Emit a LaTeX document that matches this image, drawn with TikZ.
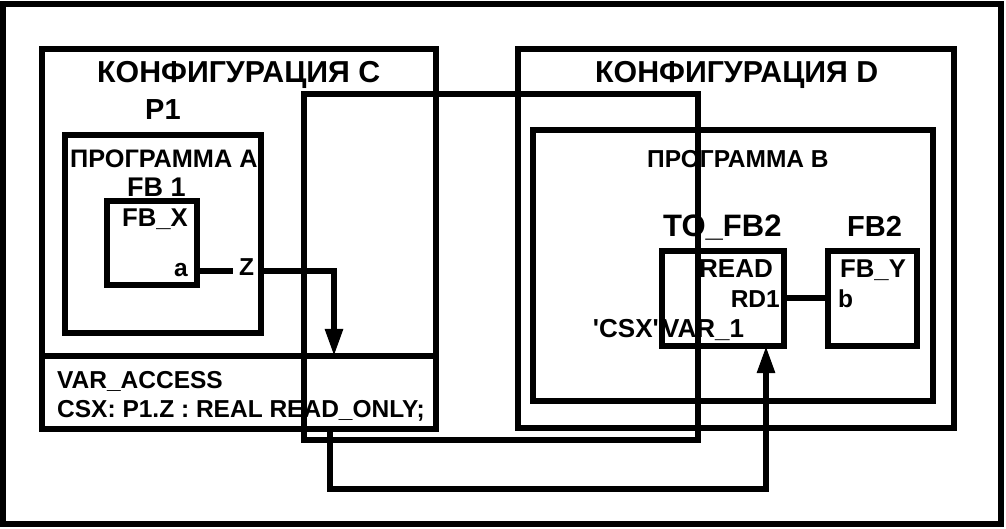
\documentclass[tikz,border=0pt]{standalone}
\usepackage{fontspec}
\setmainfont{Liberation Sans}
\usetikzlibrary{arrows.meta,fit}
\newcommand\fsz[1]{\bfseries\fontsize{#1bp}{#1bp}\selectfont}
\begin{document}
\begin{tikzpicture}[x=1bp,y=-1bp,
  box/.style={draw, line width=5.5bp, inner sep=0pt, outer sep=0pt},
  wire/.style={line width=5.5bp},
  big/.style={font=\fsz{30.3}, inner sep=0pt},
  txt/.style={font=\fsz{24.5}, inner sep=0pt},
  arr/.style={-{Triangle[length=27bp,width=17bp]}}
]
\useasboundingbox (0,0) rectangle (1006,529);
% boxes
\node[box, fit={(3,4) (1001,524)}] (frame) {};
\node[box, fit={(42,49) (436,429)}] (confC) {};
\node[box, fit={(65,135) (261,333)}] (progA) {};
\node[box, fit={(107,201) (197,285)}] (fbx) {};
\node[box, fit={(518,49) (954,428)}] (confD) {};
\node[box, fit={(533,130) (933,401)}] (progB) {};
\node[box, fit={(662,251) (784,346)}] (tofb) {};
\node[box, fit={(828,251) (917,346)}] (fbtwo) {};
\coordinate (sep) at (0,356);
\draw[wire] (confC.west |- sep) -- (confC.east |- sep);
% texts
\node[big, anchor=base west] (tC) at (97,83) {КОНФИГУРАЦИЯ C};
\node[big, font=\fsz{29}, anchor=base west] (tP) at (145,120) {P1};
\node[txt, font=\fsz{25.3}, anchor=base west] (tpA) at (70,168) {ПРОГРАММА A};
\node[txt, font=\fsz{27}, anchor=base west] (tfb1) at (127,197) {FB 1};
\node[txt, font=\fsz{25.7}, anchor=base west] (tfbx) at (122,227) {FB\_X};
\node[txt, anchor=base east] (ta) at (188,277) {a};
\node[txt, anchor=base west] (tZ) at (239,276) {Z};
\node[txt, anchor=base west] (tva) at (57,388) {VAR\_ACCESS};
\node[txt, anchor=base west] (tcsx) at (57,417) {CSX: P1.Z : REAL READ\_ONLY;};
\node[big, anchor=base west] (tD) at (595,83) {КОНФИГУРАЦИЯ D};
\node[txt, anchor=base west] (tpB) at (647,168) {ПРОГРАММА B};
\node[big, font=\fsz{31}, anchor=base west] (ttofb) at (663,237) {TO\_FB2};
\node[big, font=\fsz{29}, anchor=base west] (tfb2) at (847,237) {FB2};
\node[txt, font=\fsz{26}, anchor=base east] (tread) at (773,278) {READ};
\node[txt, anchor=base east] (trd) at (780,308) {RD1};
\node[txt, font=\fsz{26}, anchor=base east] (tq) at (659,338) {\textquotesingle CSX\textquotesingle};
\node[txt, font=\fsz{26}, anchor=base west] (tvar) at (662,338) {VAR\_1};
\node[txt, font=\fsz{25.7}, anchor=base west] (tfby) at (840,278) {FB\_Y};
\node[txt, anchor=base west] (tb) at (838,308) {b};
% connectors
\coordinate (zc) at (334,271);
\draw[wire] (fbx.east |- zc) -- ([xshift=-6bp]tZ.west |- zc);
\draw[wire, arr] ([xshift=6bp]tZ.east |- zc) -- (zc) -- (zc |- sep);
\coordinate (lo) at (330,489);
\coordinate (up) at (766,489);
\draw[wire, arr] (lo |- confC.south) -- (lo) -- (up) -- (up |- tofb.south);
\draw[wire] (tofb.east |- 0,298) -- (fbtwo.west |- 0,298);
% crossing path
\node[box, fit={(304,94) (698,440)}] (xpath) {};
\end{tikzpicture}
\end{document}
